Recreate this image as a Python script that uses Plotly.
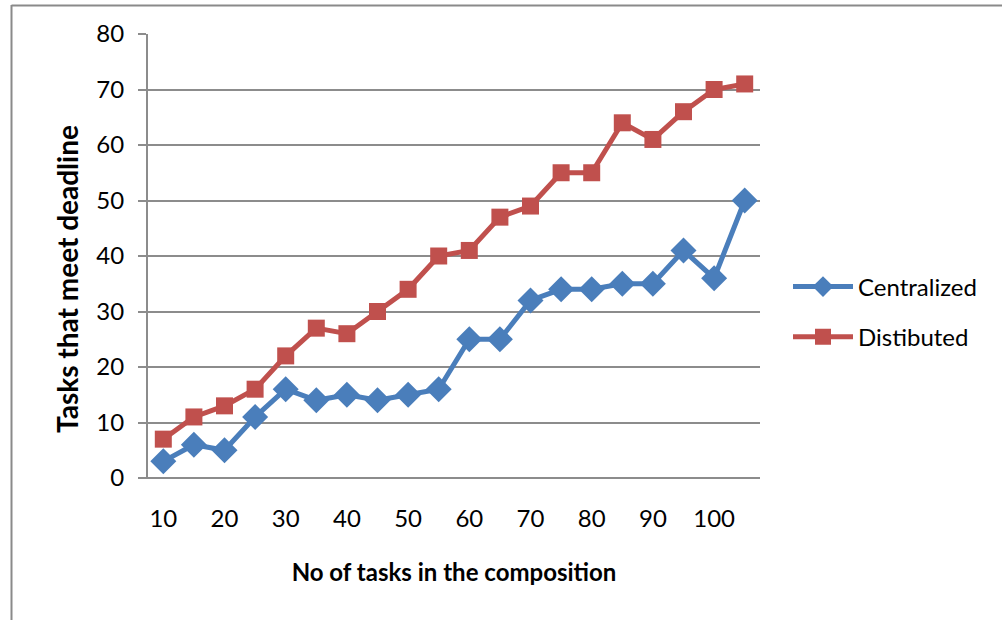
import plotly.graph_objects as go

# Number of tasks in the composition
tasks = [10, 15, 20, 25, 30, 35, 40, 45, 50, 55, 60, 65, 70, 75, 80, 85, 90, 95, 100, 105]
# Tasks that meet their deadline
centralized = [3, 6, 5, 11, 16, 14, 15, 14, 15, 16, 25, 25, 32, 34, 34, 35, 35, 41, 36, 50]
distributed = [7, 11, 13, 16, 22, 27, 26, 30, 34, 40, 41, 47, 49, 55, 55, 64, 61, 66, 70, 71]

x_ticks = [10, 20, 30, 40, 50, 60, 70, 80, 90, 100]
y_ticks = [0, 10, 20, 30, 40, 50, 60, 70, 80]

W, H = 1002, 620
L, R, T, B = 148, 760, 34, 478
FONT = "Lato"
FS = 24
GRID = "#8c8c8c"

fig = go.Figure()
fig.add_trace(go.Scatter(
    x=tasks, y=centralized, name="Centralized", mode="lines+markers",
    legendgroup="c",
    line=dict(color="#4a7ebb", width=5),
    marker=dict(symbol="diamond", size=20, color="#4a7ebb"),
))
fig.add_trace(go.Scatter(
    x=tasks, y=distributed, name="Distibuted", mode="lines+markers",
    legendgroup="d",
    line=dict(color="#c0504d", width=5),
    marker=dict(symbol="square", size=17, color="#c0504d"),
))


def px_x(p):
    return (p - L) / (R - L)


def px_y(p):
    return (B - p) / (B - T)


# outer chart frame (top and left edges)
fig.add_shape(type="line", xref="paper", yref="paper",
              x0=px_x(11.5), x1=px_x(1010), y0=px_y(5.5), y1=px_y(5.5),
              line=dict(color="#8a8a8a", width=2))
fig.add_shape(type="line", xref="paper", yref="paper",
              x0=px_x(11.5), x1=px_x(11.5), y0=px_y(5), y1=px_y(630),
              line=dict(color="#8a8a8a", width=2))

# vertical axis title, placed as a rotated annotation
fig.add_annotation(
    text="<b>Tasks that meet deadline</b>", textangle=-90, showarrow=False,
    xref="paper", yref="paper", x=px_x(67), y=px_y(279),
    xanchor="center", yanchor="middle",
    font=dict(family=FONT, size=28, color="black"),
)

fig.update_layout(
    width=W, height=H,
    margin=dict(l=L, r=W - R, t=T, b=H - B),
    paper_bgcolor="white", plot_bgcolor="white",
    font=dict(family=FONT, color="black"),
    showlegend=True,
    legend=dict(
        x=px_x(788), y=px_y(312), xanchor="left", yanchor="middle",
        font=dict(family=FONT, size=FS, color="black"),
        itemwidth=60, tracegroupgap=16, bgcolor="rgba(0,0,0,0)",
    ),
    xaxis=dict(
        range=[7.5, 107.5], tickvals=x_ticks, ticktext=[str(v) for v in x_ticks],
        showgrid=False, zeroline=False, showline=False, ticks="",
        ticklabelstandoff=24,
        tickfont=dict(family=FONT, size=FS, color="black"),
        title=dict(text="<b>No of tasks in the composition</b>", standoff=33,
                   font=dict(family=FONT, size=FS, color="black")),
    ),
    yaxis=dict(
        range=[0, 80], tickvals=y_ticks, showgrid=True, gridcolor=GRID, gridwidth=1.5,
        zeroline=False, showline=True, linecolor=GRID, linewidth=2,
        ticks="outside", ticklen=8, tickcolor=GRID, tickwidth=1.5,
        ticklabelstandoff=9,
        tickfont=dict(family=FONT, size=FS, color="black"),
    ),
)
# bottom axis line drawn from the y-axis tick length to the plot edge
fig.add_shape(type="line", xref="paper", yref="paper",
              x0=px_x(140), x1=1, y0=0, y1=0,
              line=dict(color=GRID, width=2))

fig.write_html("out.html")
